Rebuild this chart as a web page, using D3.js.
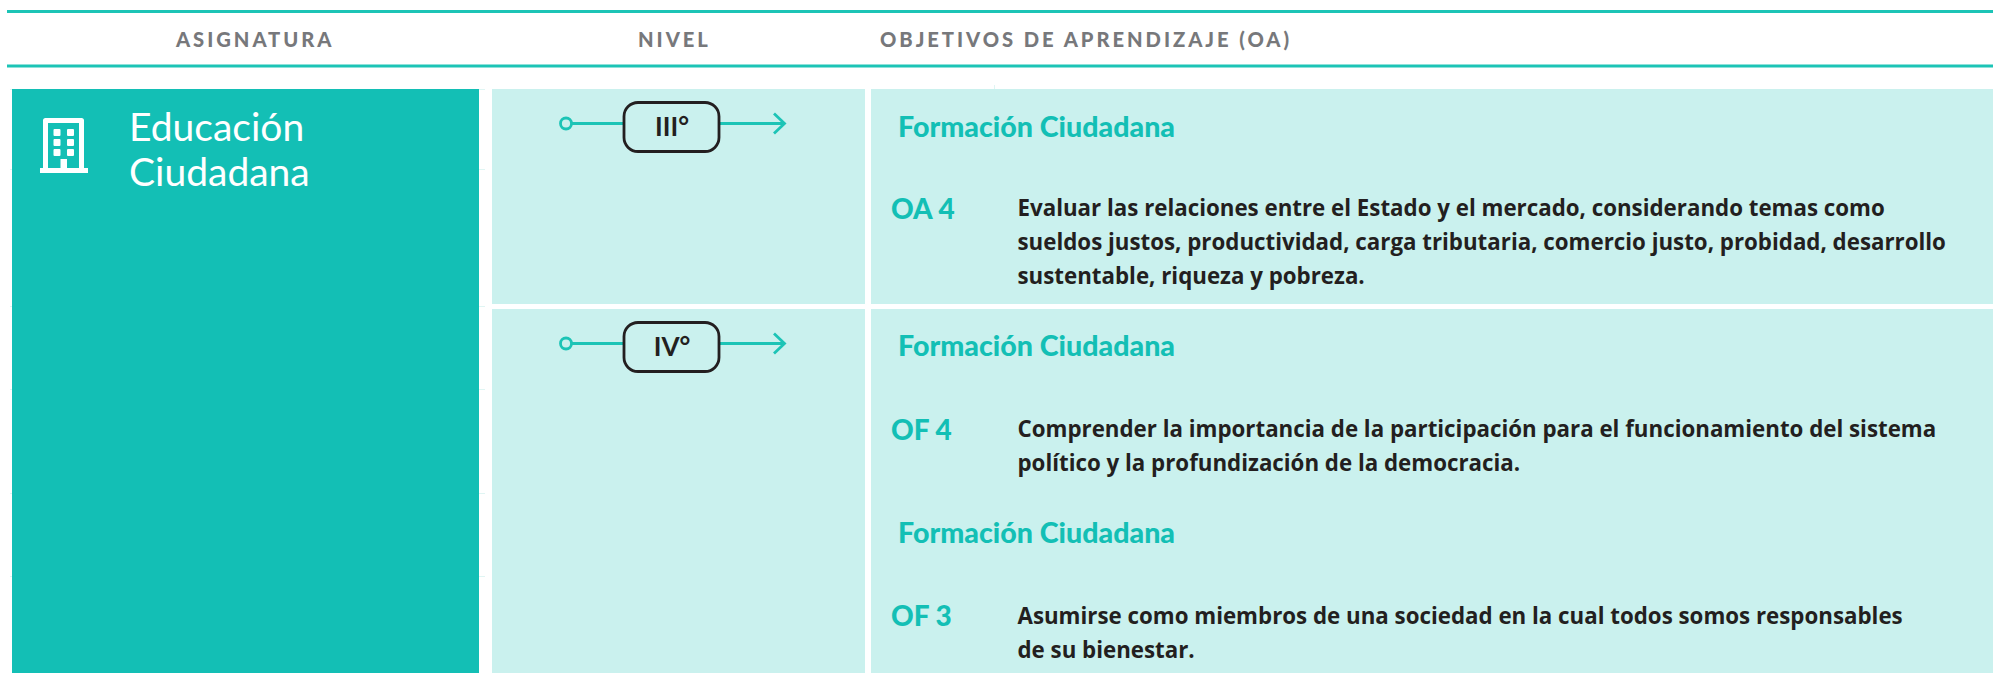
<!DOCTYPE html>
<html>
<head>
<meta charset="utf-8">
<script src="https://cdnjs.cloudflare.com/ajax/libs/d3/7.8.5/d3.min.js"></script>
<style>
  html, body { margin: 0; padding: 0; background: #fff; overflow: hidden; }
  text { font-family: Lato, sans-serif; }
  .head { font-size: 20.2px; font-weight: 900; fill: #77787b; letter-spacing: 2.95px; }
  .subject { font-size: 39px; fill: #fff; }
  .level { font-size: 26px; font-weight: 700; fill: #231f20; text-anchor: middle; }
  .topic { font-size: 28.6px; font-weight: 900; fill: #13bfb5; }
  .code { font-size: 28px; font-weight: 900; fill: #13bfb5; }
  .body { font-family: "Open Sans", sans-serif; font-size: 22.3px; font-weight: 700; fill: #231f20; }
</style>
</head>
<body>
<script>
var width = 1993, height = 673;

var headers = ["ASIGNATURA", "NIVEL", "OBJETIVOS DE APRENDIZAJE (OA)"];
var subjectLines = ["Educación", "Ciudadana"];
var levels = ["III°", "IV°"];
var topics = ["Formación Ciudadana", "Formación Ciudadana", "Formación Ciudadana"];
var codes = ["OA 4", "OF 4", "OF 3"];
var objectives = [
  ["Evaluar las relaciones entre el Estado y el mercado, considerando temas como",
   "sueldos justos, productividad, carga tributaria, comercio justo, probidad, desarrollo",
   "sustentable, riqueza y pobreza."],
  ["Comprender la importancia de la participación para el funcionamiento del sistema",
   "político y la profundización de la democracia."],
  ["Asumirse como miembros de una sociedad en la cual todos somos responsables",
   "de su bienestar."]
];

var teal = "#13bfb5", pale = "#caf1ee", rule = "#1cc4b6", ink = "#231f20", faint = "#dff5f3";

var svg = d3.select("body").append("svg")
    .attr("width", width)
    .attr("height", height)
    .style("display", "block");

// header rules
svg.selectAll("line.rule")
    .data([11.5, 66])
  .enter().append("line")
    .attr("class", "rule")
    .attr("x1", 7).attr("x2", width)
    .attr("y1", function(d) { return d; })
    .attr("y2", function(d) { return d; })
    .attr("stroke", rule)
    .attr("stroke-width", 2.8);

var headerX = d3.scaleOrdinal().domain(headers).range([176, 638, 880]);

svg.selectAll("text.head")
    .data(headers)
  .enter().append("text")
    .attr("class", "head")
    .attr("x", function(d) { return headerX(d); })
    .attr("y", 47)
    .text(function(d) { return d; });

// faint table borders that show around the panels
var faintY = [89, 169, 306, 389, 493, 576];
svg.selectAll("line.faint")
    .data(faintY)
  .enter().append("line")
    .attr("class", "faint")
    .attr("x1", 10).attr("x2", 485)
    .attr("y1", function(d) { return d + 0.5; })
    .attr("y2", function(d) { return d + 0.5; })
    .attr("stroke", faint);

svg.append("line")
    .attr("x1", 994.5).attr("x2", 994.5)
    .attr("y1", 85).attr("y2", 89)
    .attr("stroke", faint);

// panels
svg.append("rect")
    .attr("x", 12).attr("y", 89)
    .attr("width", 467).attr("height", height - 89)
    .attr("fill", teal);

var rowY = d3.scaleOrdinal().domain(levels).range([89, 309]);
var rowH = d3.scaleOrdinal().domain(levels).range([215, height - 309]);

var rows = svg.selectAll("g.row")
    .data(levels)
  .enter().append("g")
    .attr("class", "row");

rows.append("rect")
    .attr("x", 492).attr("width", 373)
    .attr("y", function(d) { return rowY(d); })
    .attr("height", function(d) { return rowH(d); })
    .attr("fill", pale);

rows.append("rect")
    .attr("x", 871).attr("width", width - 871)
    .attr("y", function(d) { return rowY(d); })
    .attr("height", function(d) { return rowH(d); })
    .attr("fill", pale);

// subject cell
svg.selectAll("text.subject")
    .data(subjectLines)
  .enter().append("text")
    .attr("class", "subject")
    .attr("x", 129)
    .attr("y", function(d, i) { return 141 + i * 45; })
    .text(function(d) { return d; });

// building icon
var icon = svg.append("g").attr("transform", "translate(40,118)");
icon.append("path")
    .attr("d", "M5.5 50V2.5H41.5V50")
    .attr("fill", "none").attr("stroke", "#fff").attr("stroke-width", 5)
    .attr("stroke-linejoin", "round");
icon.append("rect").attr("x", 0).attr("y", 50).attr("width", 48).attr("height", 5).attr("fill", "#fff");
icon.append("rect").attr("x", 20.5).attr("y", 41).attr("width", 6.5).attr("height", 10).attr("fill", "#fff");
d3.cross([13.5, 27], [11, 21, 31]).forEach(function(p) {
  icon.append("rect").attr("x", p[0]).attr("y", p[1])
      .attr("width", 7).attr("height", 7).attr("rx", 1).attr("fill", "#fff");
});

// level nodes
var nodeLine = d3.line();
var node = rows.append("g")
    .attr("transform", function(d) { return "translate(0," + (rowY(d) + 34.5) + ")"; });

node.append("circle")
    .attr("cx", 566).attr("cy", 0).attr("r", 5.5)
    .attr("fill", "none").attr("stroke", rule).attr("stroke-width", 2.8);
node.append("path")
    .attr("d", nodeLine([[572, 0], [623, 0]]))
    .attr("stroke", rule).attr("stroke-width", 2.8);
node.append("path")
    .attr("d", nodeLine([[719, 0], [784, 0]]))
    .attr("stroke", rule).attr("stroke-width", 2.8);
node.append("path")
    .attr("d", nodeLine([[774, -10], [784.5, 0], [774, 10]]))
    .attr("fill", "none").attr("stroke", rule).attr("stroke-width", 2.8);
node.append("rect")
    .attr("x", 624).attr("y", -21)
    .attr("width", 95).attr("height", 49)
    .attr("rx", 14)
    .attr("fill", "none").attr("stroke", ink).attr("stroke-width", 2.8);
node.append("text")
    .attr("class", "level")
    .attr("x", 672).attr("y", 12.5)
    .text(function(d) { return d; });

// objectives
var topicBase = [137, 356, 543];
var codeBase = [219, 440, 626];
var bodyBase = [216, 437, 624];

svg.selectAll("text.topic")
    .data(topics)
  .enter().append("text")
    .attr("class", "topic")
    .attr("x", 898)
    .attr("y", function(d, i) { return topicBase[i]; })
    .text(function(d) { return d; });

svg.selectAll("text.code")
    .data(codes)
  .enter().append("text")
    .attr("class", "code")
    .attr("x", 891)
    .attr("y", function(d, i) { return codeBase[i]; })
    .text(function(d) { return d; });

var blocks = svg.selectAll("text.body")
    .data(objectives)
  .enter().append("text")
    .attr("class", "body");

blocks.selectAll("tspan")
    .data(function(d, i) { return d.map(function(t) { return {t: t, i: i}; }); })
  .enter().append("tspan")
    .attr("x", 1017.5)
    .attr("y", function(d, j) { return bodyBase[d.i] + j * 34; })
    .text(function(d) { return d.t; });
</script>
</body>
</html>
